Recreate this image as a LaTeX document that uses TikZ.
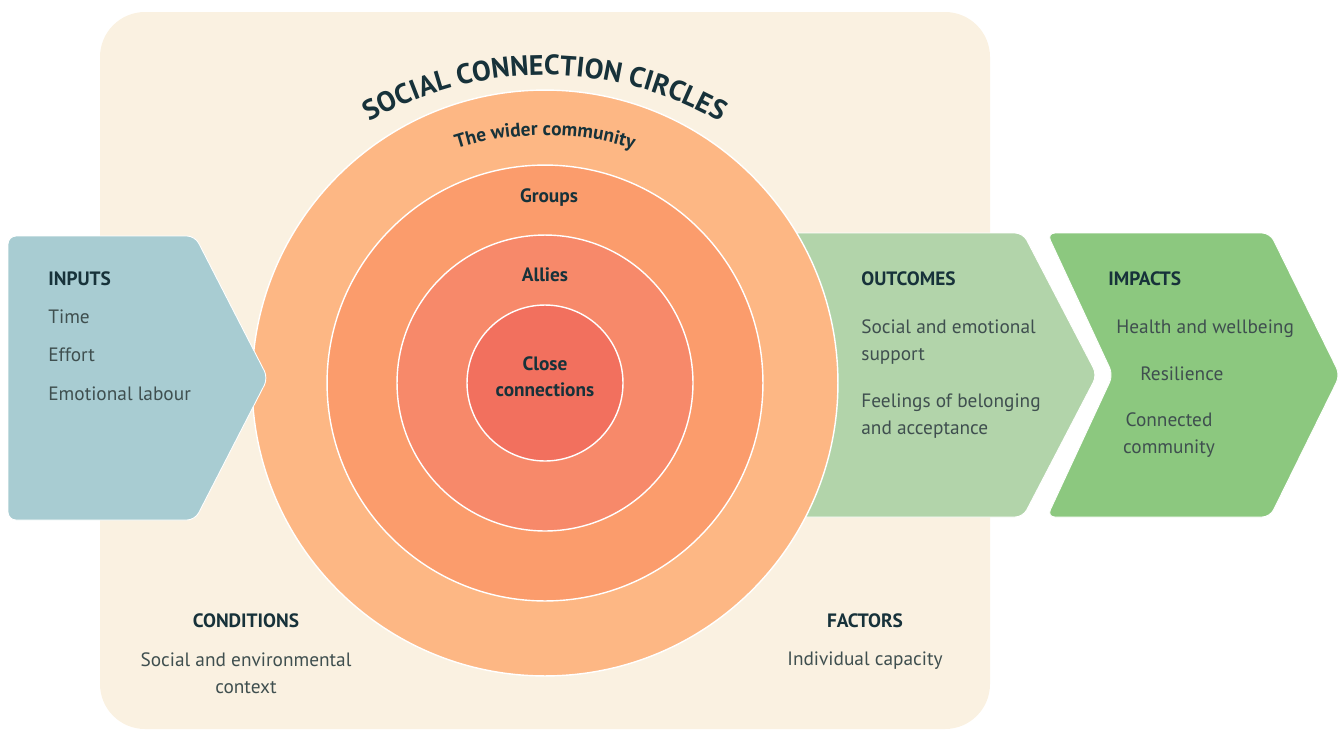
\documentclass[tikz,border=0pt]{standalone}
\usepackage{fontspec}
\setmainfont{PT Sans}
\usepackage{xcolor}
\usetikzlibrary{positioning, decorations.text}

\definecolor{cream}{HTML}{FAF1E1}
\definecolor{inputc}{HTML}{A8CCD2}
\definecolor{outcomec}{HTML}{B2D4AA}
\definecolor{impactc}{HTML}{8CC87F}
\definecolor{widerc}{HTML}{FDB784}
\definecolor{groupc}{HTML}{FB9C6C}
\definecolor{allyc}{HTML}{F7896A}
\definecolor{closec}{HTML}{F2705E}
\definecolor{ink}{HTML}{17323A}
\definecolor{body}{HTML}{3F4F4F}

\begin{document}
\begin{tikzpicture}[
    x=0.02cm, y=-0.02cm,
    ring/.style={circle, draw=white, line width=0.8pt, inner sep=0pt},
    chevron/.style={rounded corners=0.16cm, draw=white, line width=0.5pt},
    head/.style={font=\bfseries\fontsize{11}{13}\selectfont, text=ink, inner sep=0pt, text height=1.6ex, text depth=.4ex},
    item/.style={font=\fontsize{11}{15.3}\selectfont, text=body, inner sep=0pt, text height=1.6ex, text depth=.4ex},
    para/.style={font=\fontsize{11}{15.3}\selectfont, text=body, inner sep=0pt},
    ringlabel/.style={font=\bfseries\fontsize{11}{15}\selectfont, text=ink, inner sep=0pt, align=center},
]
\useasboundingbox (0,0) rectangle (1341,731);

% backdrop
\path[fill=cream, rounded corners=0.9cm] (100,12) rectangle (990,729);

% outcomes and impacts
\path[chevron, fill=outcomec] (700,233) -- (1023,233) -- (1097,375) -- (1023,517) -- (700,517) -- cycle;
\path[chevron, fill=impactc] (1047,233) -- (1270,233) -- (1340,375) -- (1270,517) -- (1047,517) -- (1113,375) -- cycle;

% circles
\coordinate (c) at (545,383);
\coordinate (arcc) at (545,425);
\node[ring, fill=widerc, minimum size=11.72cm] (wider) at (c) {};
\node[ring, fill=groupc, minimum size=8.72cm] (groups) at (c) {};
\node[ring, fill=allyc, minimum size=5.92cm] (allies) at (c) {};
\node[ring, fill=closec, minimum size=3.12cm] (close) at (c) {};

% inputs
\path[chevron, fill=inputc] (8,236) -- (195,236) -- (268,378) -- (195,520) -- (8,520) -- cycle;

% curved titles
\path[decorate, decoration={text along path, text align=center,
    text={|\bfseries\fontsize{16}{19}\selectfont\color{ink}|SOCIAL CONNECTION CIRCLES}}]
    (arcc) ++(140:7cm) arc[start angle=140, end angle=40, radius=7cm];
\path[decorate, decoration={text along path, text align=center,
    text={|\bfseries\fontsize{11}{13}\selectfont\color{ink}|The wider community}}]
    (arcc) ++(130:5.8cm) arc[start angle=130, end angle=50, radius=5.8cm];

\node[ringlabel] (grouplbl) at (549,198) {Groups};
\node[ringlabel] (allylbl) at (545,275) {Allies};
\node[ringlabel] (closelbl) at (545,377) {Close\\connections};

% inputs text
\node[head, anchor=west] (inputs) at (48,280) {INPUTS};
\node[item, below=0.40cm of inputs.south west, anchor=north west] (time) {Time};
\node[item, below=0.40cm of time.south west, anchor=north west] (effort) {Effort};
\node[item, below=0.40cm of effort.south west, anchor=north west] (labour) {Emotional labour};

% outcomes text
\node[head, anchor=west] (outcomes) at (861,280) {OUTCOMES};
\node[para, align=left, anchor=west] (support) at (861,342) {Social and emotional\\support};
\node[para, align=left, anchor=west] (belong) at (861,416) {Feelings of belonging\\and acceptance};

% impacts text
\node[head, anchor=west] (impacts) at (1108,280) {IMPACTS};
\node[item, anchor=west] (health) at (1116,328) {Health and wellbeing};
\node[item, anchor=west] (resil) at (1140,375) {Resilience};
\node[para, align=center] (connected) at (1169,435) {Connected\\community};

% conditions and factors
\node[head] (conditions) at (246,622) {CONDITIONS};
\node[para, align=center] (context) at (246,673) {Social and environmental\\context};
\node[head] (factors) at (865,622) {FACTORS};
\node[item] (capacity) at (865,660) {Individual capacity};
\end{tikzpicture}
\end{document}
